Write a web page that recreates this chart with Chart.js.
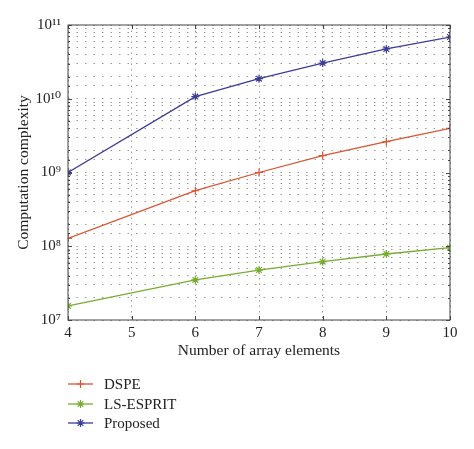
<!DOCTYPE html>
<html lang="en">
<head>
<meta charset="UTF-8">
<title>Computation complexity</title>
<script src="https://cdn.jsdelivr.net/npm/chart.js@4.4.1/dist/chart.umd.min.js"></script>
<style>
  html, body { margin: 0; padding: 0; background: #fff; }
  #wrap { width: 474px; height: 449px; }
</style>
</head>
<body>
<div id="wrap"><canvas id="chart"></canvas></div>
<script>
// data
var elements = [4, 6, 7, 8, 9, 10];
var dspe = [1.28e8, 5.66e8, 1.0e9, 1.69e9, 2.62e9, 3.97e9];
var lsEsprit = [1.55e7, 3.49e7, 4.76e7, 6.18e7, 7.85e7, 9.57e7];
var proposed = [1.0e9, 1.07e10, 1.87e10, 3.05e10, 4.73e10, 6.87e10];
var seriesNames = ["DSPE", "LS-ESPRIT", "Proposed"];
var seriesColors = ["#d95430", "#77ac30", "#3c3c96"];
var seriesMarkers = ["cross", "star", "star"];

var serif = "'Liberation Serif', 'DejaVu Serif', serif";
var sup = { "0": "\u2070", "1": "\u00b9", "2": "\u00b2", "3": "\u00b3", "4": "\u2074",
            "5": "\u2075", "6": "\u2076", "7": "\u2077", "8": "\u2078", "9": "\u2079" };

function pts(vals) {
    return vals.map(function (v, i) { return { x: elements[i], y: v }; });
}

function isDecade(v) {
    var e = Math.log10(v);
    return Math.abs(e - Math.round(e)) < 1e-9;
}

var allValues = [dspe, lsEsprit, proposed];
var datasets = [];
for (var i = 0; i < seriesNames.length; i++) {
    datasets.push({
        label: seriesNames[i],
        data: pts(allValues[i]),
        borderColor: seriesColors[i],
        backgroundColor: seriesColors[i],
        borderWidth: 1.3,
        pointStyle: seriesMarkers[i],
        pointRadius: 4,
        pointBorderWidth: 1.2,
        pointBorderColor: seriesColors[i],
        tension: 0
    });
}

// box with inward tick marks + legend under the chart
var boxAndLegend = {
    id: 'boxAndLegend',
    afterDraw: function (chart) {
        var ctx = chart.ctx, a = chart.chartArea;
        var xs = chart.scales.x, ysc = chart.scales.y;
        ctx.save();
        ctx.strokeStyle = '#444';
        ctx.lineWidth = 1;
        ctx.strokeRect(a.left, a.top, a.right - a.left, a.bottom - a.top);

        ctx.beginPath();
        ysc.ticks.forEach(function (t) {
            var py = Math.round(ysc.getPixelForValue(t.value)) + 0.5;
            var len = isDecade(t.value) ? 4 : 2;
            ctx.moveTo(a.left, py); ctx.lineTo(a.left + len, py);
            ctx.moveTo(a.right, py); ctx.lineTo(a.right - len, py);
        });
        xs.ticks.forEach(function (t) {
            var px = Math.round(xs.getPixelForValue(t.value)) + 0.5;
            ctx.moveTo(px, a.bottom); ctx.lineTo(px, a.bottom - 4);
            ctx.moveTo(px, a.top); ctx.lineTo(px, a.top + 4);
        });
        ctx.stroke();

        var ys = [384, 404, 423];
        ctx.font = "15px " + serif;
        ctx.textBaseline = 'middle';
        chart.data.datasets.forEach(function (ds, k) {
            ctx.strokeStyle = ds.borderColor;
            ctx.lineWidth = 1.3;
            ctx.beginPath();
            ctx.moveTo(68, ys[k]);
            ctx.lineTo(93, ys[k]);
            ctx.stroke();
            ctx.fillStyle = ds.borderColor;
            ctx.lineWidth = 1.2;
            Chart.helpers.drawPoint(ctx, { pointStyle: ds.pointStyle, radius: 4, rotation: 0, borderWidth: 1.2 }, 80.5, ys[k]);
            ctx.fillStyle = '#222';
            ctx.fillText(ds.label, 104, ys[k] + 1);
        });
        ctx.restore();
    }
};

new Chart(document.getElementById('chart'), {
    type: 'line',
    data: { datasets: datasets },
    options: {
        responsive: true,
        maintainAspectRatio: false,
        animation: false,
        layout: { padding: { left: 15, right: 24, top: 25, bottom: 89 } },
        plugins: { legend: { display: false }, tooltip: { enabled: false } },
        scales: {
            x: {
                type: 'linear',
                min: 4,
                max: 10,
                afterFit: function (s) { s.height = 40; },
                ticks: { stepSize: 1, color: '#222', padding: 4, font: { family: serif, size: 15 } },
                grid: { color: '#9a9a9a', lineWidth: 1, drawTicks: false },
                border: { display: false, dash: [1.5, 4] },
                title: { display: true, text: 'Number of array elements', color: '#222',
                         padding: { top: 3, bottom: 0 }, font: { family: serif, size: 15.5 } }
            },
            y: {
                type: 'logarithmic',
                min: 1e7,
                max: 1e11,
                afterFit: function (s) { s.width = 53; },
                ticks: {
                    autoSkip: false,
                    color: '#222',
                    padding: 7,
                    font: { family: serif, size: 15 },
                    callback: function (v) {
                        if (!isDecade(v)) return '';
                        return '10' + String(Math.round(Math.log10(v))).split('').map(function (c) { return sup[c]; }).join('');
                    }
                },
                grid: { color: '#9a9a9a', lineWidth: 1, drawTicks: false },
                border: { display: false, dash: [1.5, 7] },
                title: { display: true, text: 'Computation complexity', color: '#222',
                         padding: { top: 0, bottom: 0 }, font: { family: serif, size: 15.5 } }
            }
        }
    },
    plugins: [boxAndLegend]
});
</script>
</body>
</html>
